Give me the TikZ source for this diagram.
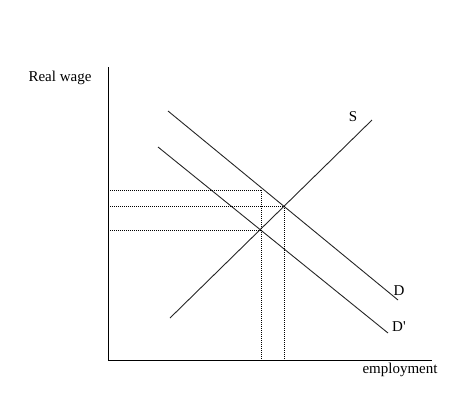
\documentclass[tikz,border=0pt]{standalone}
\usepackage{fontspec}
\setmainfont{Liberation Serif}
\begin{document}
\begin{tikzpicture}[x=1pt,y=-1pt,
  axis/.style={line width=1pt,black},
  curve/.style={line width=0.9pt,black!85},
  guide/.style={line width=1pt,black,dash pattern=on 1pt off 1pt},
  lbl/.style={font=\fontsize{15}{17}\selectfont,inner sep=0pt}]
\useasboundingbox (0,0) rectangle (474,413);
% axes
\coordinate (O) at (108,360);
\coordinate (ytop) at (108,67);
\coordinate (xend) at (432,360);
\draw[axis] (ytop) -- (O) -- (xend);
% curves
\coordinate (S1) at (170,318);
\coordinate (S2) at (372,120);
\coordinate (D1) at (168,111);
\coordinate (D2) at (398,300);
\coordinate (Dp1) at (158,147);
\coordinate (Dp2) at (388,333);
\draw[curve] (S1) -- (S2);
\draw[curve] (D1) -- (D2);
\draw[curve] (Dp1) -- (Dp2);
% guide points
\coordinate (E1) at (284,206);
\coordinate (E2) at (261,230);
\coordinate (T) at (261,190);
\coordinate (yE1) at (108,206);
\coordinate (yE2) at (108,230);
\coordinate (yT) at (108,190);
\coordinate (xE1) at (284,360);
\coordinate (xE2) at (261,360);
\draw[guide] (yT) -- (T);
\draw[guide] (yE1) -- (E1);
\draw[guide] (yE2) -- (E2);
\draw[guide] (T) -- (xE2);
\draw[guide] (E1) -- (xE1);
% labels
\node[lbl] (ylab) at (60,78) {Real wage};
\node[lbl] (slab) at (353,117) {S};
\node[lbl] (dlab) at (399,291) {D};
\node[lbl] (dplab) at (399,327) {D\textquotesingle};
\node[lbl] (xlab) at (400,370) {employment};
\end{tikzpicture}
\end{document}
